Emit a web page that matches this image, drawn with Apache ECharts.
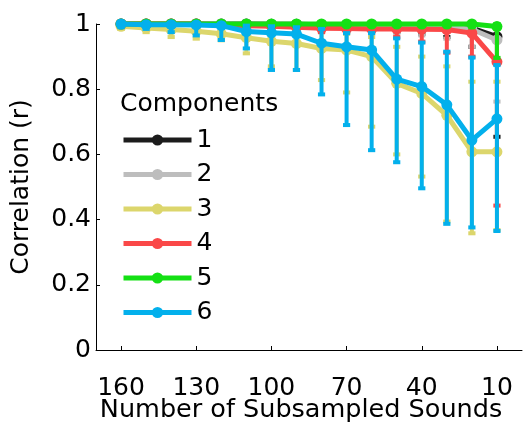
<!DOCTYPE html>
<html>
<head>
<meta charset="utf-8">
<script src="https://cdn.jsdelivr.net/npm/echarts@6/dist/echarts.min.js"></script>
<style>html,body{margin:0;padding:0;background:#fff}#c{width:527px;height:422px}</style>
</head>
<body>
<div id="c"></div>
<script>
const sampleSizes = [160,150,140,130,120,110,100,90,80,70,60,50,40,30,20,10];
const xTickLabels = [160,130,100,70,40,10];
const yTicks = [0,0.2,0.4,0.6,0.8,1];
const componentNames = ['1','2','3','4','5','6'];

const c1Mean = [1,1,1,1,1,1,0.999,0.999,0.998,0.998,0.997,0.996,0.995,0.993,0.987,0.961];
const c1Low  = [0.995,0.995,0.995,0.994,0.993,0.99,0.99,0.988,0.985,0.983,0.98,0.975,0.97,0.96,0.93,0.654];
const c1High = [1,1,1,1,1,1,1,1,1,1,1,1,1,1,0.998,0.99];

const c2Mean = [1,1,1,1,1,0.999,0.999,0.998,0.997,0.997,0.996,0.995,0.994,0.991,0.984,0.951];
const c2Low  = [0.995,0.995,0.995,0.994,0.993,0.99,0.99,0.987,0.984,0.982,0.978,0.972,0.965,0.955,0.93,0.762];
const c2High = [1,1,1,1,1,1,1,1,1,1,1,1,1,1,0.998,0.99];

const c3Mean = [0.993,0.988,0.983,0.978,0.97,0.958,0.947,0.94,0.925,0.92,0.9,0.818,0.787,0.72,0.608,0.608];
const c3Low  = [0.985,0.975,0.96,0.955,0.95,0.91,0.87,0.859,0.828,0.79,0.685,0.6,0.532,0.394,0.358,0.368];
const c3High = [1,1,0.998,0.995,0.99,0.99,0.985,0.98,0.975,0.97,0.96,0.93,0.9,0.87,0.823,0.823];

const c4Mean = [1,1,1,1,0.998,0.995,0.993,0.99,0.987,0.986,0.985,0.985,0.984,0.983,0.972,0.884];
const c4Low  = [0.995,0.995,0.995,0.994,0.99,0.985,0.985,0.98,0.975,0.975,0.975,0.96,0.946,0.912,0.9,0.443];
const c4High = [1,1,1,1,1,1,1,1,1,1,1,1,1,1,0.998,0.99];

const c5Mean = [1,1,1,1,1,1,1,1,1,1,1,1,1,1,1,0.992];
const c5Low  = [0.998,0.998,0.998,0.998,0.998,0.997,0.997,0.997,0.996,0.996,0.995,0.995,0.994,0.993,0.99,0.896];
const c5High = [1,1,1,1,1,1,1,1,1,1,1,1,1,1,1,1];

const c6Mean = [1,0.998,0.998,0.997,0.995,0.977,0.973,0.969,0.941,0.93,0.92,0.831,0.808,0.752,0.644,0.709];
const c6Low  = [0.99,0.985,0.975,0.965,0.951,0.925,0.859,0.859,0.784,0.69,0.613,0.576,0.496,0.387,0.376,0.365];
const c6High = [1,1,1,1,1,0.995,0.993,0.99,0.985,0.972,0.972,0.956,0.943,0.915,0.897,0.874];

const colors = ['#1c1c1c','#bdbdbd','#dcd66c','#fa4848','#14e014','#03b0ec'];
const means = [c1Mean,c2Mean,c3Mean,c4Mean,c5Mean,c6Mean];
const lows = [c1Low,c2Low,c3Low,c4Low,c5Low,c6Low];
const highs = [c1High,c2High,c3High,c4High,c5High,c6High];

const FONT = 'DejaVu Sans';
const series = [];
componentNames.forEach((name, k) => {
  const color = colors[k];
  series.push({
    name: name + ' err',
    type: 'custom',
    z: 2 + 2*k,
    clip: false,
    encode: {x: 0, y: [1, 2]},
    data: sampleSizes.map((s, i) => [s, lows[k][i], highs[k][i]]),
    renderItem: function(params, api) {
      const x = api.value(0), lo = api.value(1), hi = api.value(2);
      const p1 = api.coord([x, lo]), p2 = api.coord([x, hi]);
      const cw = 3.6;
      return {type: 'group', children: [
        {type: 'line', shape: {x1: p1[0], y1: p1[1], x2: p2[0], y2: p2[1]}, style: {stroke: color, lineWidth: 4}},
        {type: 'line', shape: {x1: p1[0]-cw, y1: p1[1], x2: p1[0]+cw, y2: p1[1]}, style: {stroke: color, lineWidth: 4}},
        {type: 'line', shape: {x1: p2[0]-cw, y1: p2[1], x2: p2[0]+cw, y2: p2[1]}, style: {stroke: color, lineWidth: 4}}
      ]};
    }
  });
  series.push({
    name: name,
    type: 'line',
    z: 3 + 2*k,
    clip: false,
    symbol: 'circle',
    symbolSize: 11,
    showSymbol: true,
    color: color,
    lineStyle: {color: color, width: 5},
    itemStyle: {color: color},
    emphasis: {disabled: true},
    animation: false,
    data: sampleSizes.map((s, i) => [s, means[k][i]])
  });
});

const chart = echarts.init(document.getElementById('c'), null, {renderer: 'canvas'});
chart.setOption({
  animation: false,
  backgroundColor: '#fff',
  textStyle: {fontFamily: FONT},
  grid: {left: 96, right: 5, top: 24, bottom: 72, containLabel: false, outerBoundsMode: 'none'},
  title: {
    text: 'Components', left: 115, top: 87,
    textStyle: {fontFamily: FONT, fontSize: 25, fontWeight: 'normal', color: '#000'}
  },
  legend: {
    data: componentNames,
    orient: 'vertical',
    left: 116, top: 122,
    itemWidth: 68, itemHeight: 14,
    itemGap: 8.5,
    lineStyle: {width: 5},
    textStyle: {fontFamily: FONT, fontSize: 25, color: '#000', lineHeight: 26},
    selectedMode: false
  },
  xAxis: {
    type: 'value', min: 0, max: 170, inverse: true,
    name: 'Number of Subsampled Sounds', nameLocation: 'middle', nameGap: 47,
    nameMoveOverlap: false,
    nameTextStyle: {fontFamily: FONT, fontSize: 25.5, color: '#000', padding: [0, 16, 0, 0]},
    axisLine: {show: true, onZero: false, lineStyle: {color: '#000', width: 1}},
    axisTick: {show: true, inside: true, length: 4, customValues: xTickLabels, lineStyle: {color: '#000'}},
    axisLabel: {customValues: xTickLabels, fontFamily: FONT, fontSize: 25, color: '#000', margin: 26},
    splitLine: {show: false}
  },
  yAxis: {
    type: 'value', min: 0, max: 1, interval: 0.2,
    name: 'Correlation (r)', nameLocation: 'middle', nameGap: 62,
    nameMoveOverlap: false,
    nameTextStyle: {fontFamily: FONT, fontSize: 25, color: '#000'},
    axisLine: {show: true, onZero: false, lineStyle: {color: '#000', width: 1}},
    axisTick: {show: true, inside: true, length: 4, lineStyle: {color: '#000'}},
    axisLabel: {fontFamily: FONT, fontSize: 25, color: '#000', margin: 5,
      formatter: v => String(Math.round(v*10)/10)},
    splitLine: {show: false}
  },
  series: series
});
</script>
</body>
</html>
